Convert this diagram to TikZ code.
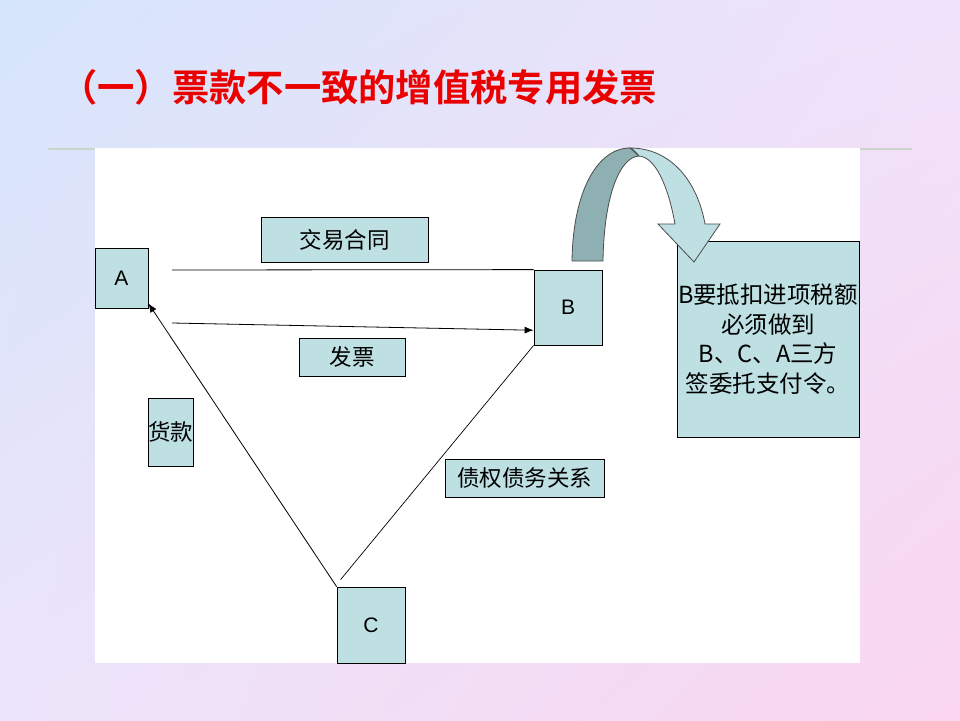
\documentclass[tikz,border=0pt]{standalone}
\usepackage{fontspec}
\setmainfont{Liberation Sans}
\newfontfamily\cjk{Noto Sans CJK SC}[BoldFont={Noto Sans CJK SC Bold}]
\usetikzlibrary{arrows.meta,calc,shadings}
\definecolor{boxfill}{RGB}{190,224,227}
\definecolor{darkrib}{RGB}{143,176,178}
\definecolor{titlered}{RGB}{235,0,0}
\definecolor{rulegray}{RGB}{205,212,205}
\definecolor{bgul}{RGB}{213,229,251}
\definecolor{bgur}{RGB}{240,226,250}
\definecolor{bgll}{RGB}{236,228,250}
\definecolor{bglr}{RGB}{250,214,240}
\tikzset{
  box/.style={draw=black, line width=0.8pt, fill=boxfill, inner sep=0pt, align=center},
  letter/.style={font=\fontsize{21}{24}\selectfont},
  cn/.style={font=\cjk\fontsize{22.5}{25}\selectfont},
  conn/.style={draw=black, line width=0.8pt},
  arr/.style={conn, -{Latex[length=9pt,width=7pt]}},
  ribbon/.style={draw=black!70, line width=0.8pt}
}
\begin{document}
\begin{tikzpicture}[x=1pt,y=-1pt]
\useasboundingbox (0,0) rectangle (960,720);
% background
\shade[upper left=bgul, upper right=bgur, lower left=bgll, lower right=bglr]
  (0,0) rectangle (960,720);
% rule and white panel
\draw[rulegray, line width=2pt] (48,149) -- (912,149);
\fill[white] (95,148) rectangle (860,663);
% title
\node[anchor=west, text=titlered, font=\cjk\bfseries\fontsize{37.3}{40}\selectfont, inner sep=0pt] (title) at (60,87) {（一）票款不一致的增值税专用发票};
% nodes
\node[box, letter, minimum width=53pt, minimum height=60pt] (A) at (121.5,278) {A};
\node[box, cn, minimum width=167pt, minimum height=45pt] (contract) at (344.5,239.5) {交易合同};
\node[box, cn, minimum width=106pt, minimum height=38pt] (invoice) at (352,357) {发票};
\node[box, letter, minimum width=68pt, minimum height=75pt] (B) at (568,307.5) {B};
\node[box, cn, minimum width=45pt, minimum height=68pt] (pay) at (170.5,432) {货款};
\node[box, cn, minimum width=159pt, minimum height=38pt] (debt) at (524.5,478) {债权债务关系};
\node[box, letter, minimum width=68pt, minimum height=76pt] (C) at (371,625) {C};
\node[box, font=\cjk\fontsize{23.5}{29.5}\selectfont, minimum width=182pt, minimum height=196pt] (note) at (768,339)
  {B要抵扣进项税额\\必须做到\\B、C、A三方\\签委托支付令。};
% connectors
\coordinate (s1) at (172,270);
\coordinate (s2) at (172,323);
\draw[conn] (s1) -- (B.north west);
\draw[arr] (s2) -- ($(B.south west)!0.2!(B.north west)$);
\draw[arr] (C.north west) -- ([yshift=5pt]A.south east);
\draw[conn, line width=0.7pt] ([xshift=4pt,yshift=7pt]C.north west) -- (B.south west);
% curved arrow
\filldraw[ribbon, fill=darkrib]
  (572,261) .. controls (573,190) and (598,148) .. (630,148)
  -- (639,156) .. controls (620,157) and (604,195) .. (603,261) -- cycle;
\filldraw[ribbon, fill=boxfill]
  (630,148) .. controls (670,148) and (697,180) .. (705,224)
  -- (720,224) -- (694,262) -- (658,224) -- (675,224)
  .. controls (668,185) and (655,157) .. (639,156)
  .. controls (636,152) and (633,149) .. (630,148) -- cycle;
\end{tikzpicture}
\end{document}
